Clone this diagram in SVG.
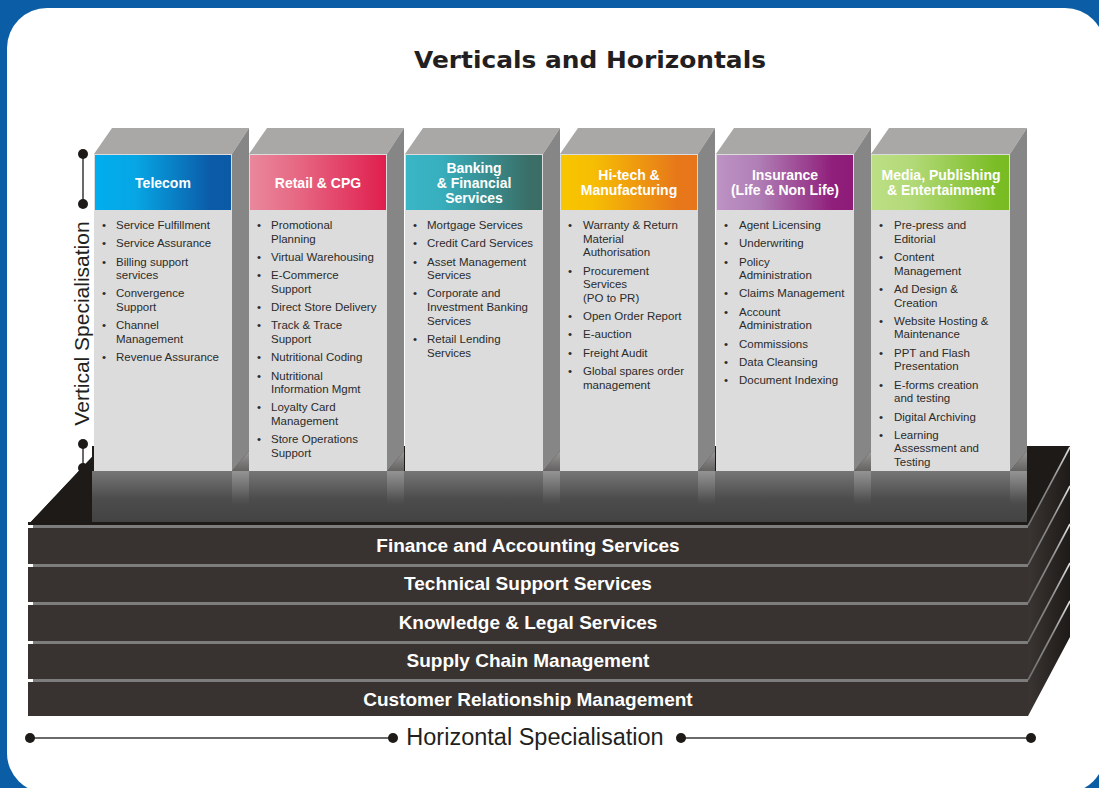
<svg xmlns="http://www.w3.org/2000/svg" width="1099" height="788" viewBox="0 0 1099 788">
  <style>
    .title { font-family: "DejaVu Sans", Verdana, sans-serif; font-weight: bold; font-size: 22px; fill: #231f20; }
    .axis-label { font-family: "Liberation Sans", Arial, sans-serif; font-size: 21px; fill: #231f20; }
    .head { font-family: "Liberation Sans", Arial, sans-serif; font-weight: bold; font-size: 14px; fill: #ffffff; text-anchor: middle; }
    .item { font-family: "Liberation Sans", Arial, sans-serif; font-size: 11.5px; fill: #2b2b2b; }
    .slab-label { font-family: "Liberation Sans", Arial, sans-serif; font-weight: bold; font-size: 19px; fill: #ffffff; text-anchor: middle; }
    .top { fill: #a9a8a6; }
    .side { fill: #868686; }
    .body { fill: #dcdcdc; }
    .slab { fill: #383330; }
    .slab-edge { fill: #7d7d7d; }
    .dot { fill: #1e1a18; }
    .axis { stroke: #6a6a6a; stroke-width: 2; fill: none; }
    .rim { stroke: url(#rimGrad); stroke-width: 1.6; fill: none; }
  </style>
  <defs>
    <linearGradient id="gTelecom" x1="0" y1="0" x2="1" y2="0">
      <stop offset="0" stop-color="#00aeef"/>
      <stop offset="0.3" stop-color="#07a6e4"/>
      <stop offset="0.85" stop-color="#0b5ba8"/>
      <stop offset="1" stop-color="#0b5aa6"/>
    </linearGradient>
    <linearGradient id="gRetail" x1="0" y1="0" x2="1" y2="0">
      <stop offset="0" stop-color="#e9889c"/>
      <stop offset="0.35" stop-color="#e66883"/>
      <stop offset="1" stop-color="#e01e4e"/>
    </linearGradient>
    <linearGradient id="gBanking" x1="0" y1="0" x2="1" y2="0">
      <stop offset="0" stop-color="#3ab6c6"/>
      <stop offset="0.25" stop-color="#37afbe"/>
      <stop offset="0.9" stop-color="#3a6f67"/>
      <stop offset="1" stop-color="#3a6d65"/>
    </linearGradient>
    <linearGradient id="gHitech" x1="0" y1="0" x2="1" y2="0">
      <stop offset="0" stop-color="#f8c600"/>
      <stop offset="0.25" stop-color="#f6bd04"/>
      <stop offset="0.85" stop-color="#e7781a"/>
      <stop offset="1" stop-color="#e7761a"/>
    </linearGradient>
    <linearGradient id="gInsurance" x1="0" y1="0" x2="1" y2="0">
      <stop offset="0" stop-color="#bd92c4"/>
      <stop offset="0.3" stop-color="#b07fb6"/>
      <stop offset="0.85" stop-color="#901f7b"/>
      <stop offset="1" stop-color="#8d1c78"/>
    </linearGradient>
    <linearGradient id="gMedia" x1="0" y1="0" x2="1" y2="0">
      <stop offset="0" stop-color="#bcdf85"/>
      <stop offset="0.3" stop-color="#b2d977"/>
      <stop offset="0.9" stop-color="#7bbd26"/>
      <stop offset="1" stop-color="#78bb22"/>
    </linearGradient>
    <linearGradient id="floorGrad" x1="0" y1="0" x2="0" y2="1">
      <stop offset="0" stop-color="#767676"/>
      <stop offset="0.55" stop-color="#4c4c4c"/>
      <stop offset="1" stop-color="#434343"/>
    </linearGradient>
    <linearGradient id="reflGrad" x1="0" y1="0" x2="0" y2="1">
      <stop offset="0" stop-color="#c4c4c4" stop-opacity="0.75"/>
      <stop offset="1" stop-color="#9a9a9a" stop-opacity="0"/>
    </linearGradient>
    <linearGradient id="sideFaceGrad" x1="0" y1="0" x2="1" y2="0">
      <stop offset="0" stop-color="#3a3533"/>
      <stop offset="1" stop-color="#1e1a18"/>
    </linearGradient>
    <linearGradient id="rimGrad" x1="0" y1="1" x2="1" y2="0">
      <stop offset="0" stop-color="#6f6f6f"/>
      <stop offset="0.6" stop-color="#8f8f8f"/>
      <stop offset="1" stop-color="#e6e6e6"/>
    </linearGradient>
  </defs>

  <!-- page frame -->
  <rect x="0" y="0" width="1099" height="788" fill="#0b5ea6"/>
  <rect x="7" y="8" width="1098" height="785" rx="40" ry="40" fill="#ffffff"/>

  <text class="title" x="590" y="68" text-anchor="middle" textLength="352" lengthAdjust="spacingAndGlyphs" style="font-size:23px">Verticals and Horizontals</text>

  <!-- platform: top surface, floor and layered slabs -->
  <g id="platform">
    <rect x="92" y="446" width="978" height="79" fill="#1e1a18"/>
    <polygon points="28,525 92,457 92,525" fill="#1e1a18"/>
    <rect x="92" y="471" width="935" height="51" fill="url(#floorGrad)"/>
    <rect x="28" y="522" width="1000" height="3" fill="#1e1a18"/>
    <polygon points="1028,525 1070,446 1070,637 1028,716" fill="url(#sideFaceGrad)"/>
  </g>

  <g id="slab-finance">
    <rect class="slab-edge" x="33" y="525" width="995" height="3"/>
    <rect class="slab" x="28" y="528" width="1000" height="36"/>
    <line class="rim" x1="1028" y1="526" x2="1070" y2="447"/>
    <text class="slab-label" x="528" y="552">Finance and Accounting Services</text>
  </g>
  <g id="slab-technical">
    <rect class="slab-edge" x="33" y="564" width="995" height="3"/>
    <rect class="slab" x="28" y="567" width="1000" height="35"/>
    <line class="rim" x1="1028" y1="565" x2="1070" y2="486"/>
    <text class="slab-label" x="528" y="590">Technical Support Services</text>
  </g>
  <g id="slab-knowledge">
    <rect class="slab-edge" x="33" y="602" width="995" height="3"/>
    <rect class="slab" x="28" y="605" width="1000" height="36"/>
    <line class="rim" x1="1028" y1="603" x2="1070" y2="524"/>
    <text class="slab-label" x="528" y="629">Knowledge &amp; Legal Services</text>
  </g>
  <g id="slab-supply">
    <rect class="slab-edge" x="33" y="641" width="995" height="3"/>
    <rect class="slab" x="28" y="644" width="1000" height="35"/>
    <line class="rim" x1="1028" y1="642" x2="1070" y2="563"/>
    <text class="slab-label" x="528" y="667">Supply Chain Management</text>
  </g>
  <g id="slab-crm">
    <rect class="slab-edge" x="33" y="679" width="995" height="3"/>
    <rect class="slab" x="28" y="682" width="1000" height="34"/>
    <line class="rim" x1="1028" y1="680" x2="1070" y2="601"/>
    <text class="slab-label" x="528" y="706">Customer Relationship Management</text>
  </g>

  <!-- vertical columns -->
  <g id="col-telecom">
    <polygon class="top" points="94,154 112,128 249,128 232,154"/>
    <polygon class="side" points="232,154 249,128 249,451 232,471"/>
    <polygon fill="url(#reflGrad)" points="232,471 249,451 249,505 232,505"/>
    <rect class="body" x="94" y="154" width="138" height="317"/>
    <rect x="95" y="155" width="136" height="55" fill="url(#gTelecom)"/>
    <text class="head" x="163" y="188">Telecom</text>
    <g class="item">
      <text x="102" y="229">•</text><text x="116" y="229">Service Fulfillment</text>
      <text x="102" y="247">•</text><text x="116" y="247">Service Assurance</text>
      <text x="102" y="266">•</text><text x="116" y="266">Billing support</text><text x="116" y="279">services</text>
      <text x="102" y="297">•</text><text x="116" y="297">Convergence</text><text x="116" y="311">Support</text>
      <text x="102" y="329">•</text><text x="116" y="329">Channel</text><text x="116" y="343">Management</text>
      <text x="102" y="361">•</text><text x="116" y="361">Revenue Assurance</text>
    </g>
  </g>

  <g id="col-retail">
    <polygon class="top" points="249,154 267,128 404,128 387,154"/>
    <polygon class="side" points="387,154 404,128 404,451 387,471"/>
    <polygon fill="url(#reflGrad)" points="387,471 404,451 404,505 387,505"/>
    <rect class="body" x="249" y="154" width="138" height="317"/>
    <rect x="250" y="155" width="136" height="55" fill="url(#gRetail)"/>
    <text class="head" x="318" y="188">Retail &amp; CPG</text>
    <g class="item">
      <text x="257" y="229">•</text><text x="271" y="229">Promotional</text><text x="271" y="243">Planning</text>
      <text x="257" y="261">•</text><text x="271" y="261">Virtual Warehousing</text>
      <text x="257" y="279">•</text><text x="271" y="279">E-Commerce</text><text x="271" y="293">Support</text>
      <text x="257" y="311">•</text><text x="271" y="311">Direct Store Delivery</text>
      <text x="257" y="329">•</text><text x="271" y="329">Track &amp; Trace</text><text x="271" y="343">Support</text>
      <text x="257" y="361">•</text><text x="271" y="361">Nutritional Coding</text>
      <text x="257" y="380">•</text><text x="271" y="380">Nutritional</text><text x="271" y="393">Information Mgmt</text>
      <text x="257" y="411">•</text><text x="271" y="411">Loyalty Card</text><text x="271" y="425">Management</text>
      <text x="257" y="443">•</text><text x="271" y="443">Store Operations</text><text x="271" y="457">Support</text>
    </g>
  </g>

  <g id="col-banking">
    <polygon class="top" points="405,154 423,128 560,128 543,154"/>
    <polygon class="side" points="543,154 560,128 560,451 543,471"/>
    <polygon fill="url(#reflGrad)" points="543,471 560,451 560,505 543,505"/>
    <rect class="body" x="405" y="154" width="138" height="317"/>
    <rect x="406" y="155" width="136" height="55" fill="url(#gBanking)"/>
    <text class="head" x="474" y="173">Banking</text>
    <text class="head" x="474" y="188">&amp; Financial</text>
    <text class="head" x="474" y="203">Services</text>
    <g class="item">
      <text x="413" y="229">•</text><text x="427" y="229">Mortgage Services</text>
      <text x="413" y="247">•</text><text x="427" y="247">Credit Card Services</text>
      <text x="413" y="266">•</text><text x="427" y="266">Asset Management</text><text x="427" y="279">Services</text>
      <text x="413" y="297">•</text><text x="427" y="297">Corporate and</text><text x="427" y="311">Investment Banking</text><text x="427" y="325">Services</text>
      <text x="413" y="343">•</text><text x="427" y="343">Retail Lending</text><text x="427" y="357">Services</text>
    </g>
  </g>

  <g id="col-hitech">
    <polygon class="top" points="560,154 578,128 715,128 698,154"/>
    <polygon class="side" points="698,154 715,128 715,451 698,471"/>
    <polygon fill="url(#reflGrad)" points="698,471 715,451 715,505 698,505"/>
    <rect class="body" x="560" y="154" width="138" height="317"/>
    <rect x="561" y="155" width="136" height="55" fill="url(#gHitech)"/>
    <text class="head" x="629" y="180">Hi-tech &amp;</text>
    <text class="head" x="629" y="195">Manufacturing</text>
    <g class="item">
      <text x="568" y="229">•</text><text x="583" y="229">Warranty &amp; Return</text><text x="583" y="243">Material</text><text x="583" y="256">Authorisation</text>
      <text x="568" y="275">•</text><text x="583" y="275">Procurement</text><text x="583" y="288">Services</text><text x="583" y="302">(PO to PR)</text>
      <text x="568" y="320">•</text><text x="583" y="320">Open Order Report</text>
      <text x="568" y="338">•</text><text x="583" y="338">E-auction</text>
      <text x="568" y="357">•</text><text x="583" y="357">Freight Audit</text>
      <text x="568" y="375">•</text><text x="583" y="375">Global spares order</text><text x="583" y="389">management</text>
    </g>
  </g>

  <g id="col-insurance">
    <polygon class="top" points="716,154 734,128 871,128 854,154"/>
    <polygon class="side" points="854,154 871,128 871,451 854,471"/>
    <polygon fill="url(#reflGrad)" points="854,471 871,451 871,505 854,505"/>
    <rect class="body" x="716" y="154" width="138" height="317"/>
    <rect x="717" y="155" width="136" height="55" fill="url(#gInsurance)"/>
    <text class="head" x="785" y="180">Insurance</text>
    <text class="head" x="785" y="195">(Life &amp; Non Life)</text>
    <g class="item">
      <text x="724" y="229">•</text><text x="739" y="229">Agent Licensing</text>
      <text x="724" y="247">•</text><text x="739" y="247">Underwriting</text>
      <text x="724" y="266">•</text><text x="739" y="266">Policy</text><text x="739" y="279">Administration</text>
      <text x="724" y="297">•</text><text x="739" y="297">Claims Management</text>
      <text x="724" y="316">•</text><text x="739" y="316">Account</text><text x="739" y="329">Administration</text>
      <text x="724" y="348">•</text><text x="739" y="348">Commissions</text>
      <text x="724" y="366">•</text><text x="739" y="366">Data Cleansing</text>
      <text x="724" y="384">•</text><text x="739" y="384">Document Indexing</text>
    </g>
  </g>

  <g id="col-media">
    <polygon class="top" points="871,154 889,128 1027,128 1010,154"/>
    <polygon class="side" points="1010,154 1027,128 1027,451 1010,471"/>
    <polygon fill="url(#reflGrad)" points="1010,471 1027,451 1027,505 1010,505"/>
    <rect class="body" x="871" y="154" width="139" height="317"/>
    <rect x="872" y="155" width="137" height="55" fill="url(#gMedia)"/>
    <text class="head" x="941" y="180">Media, Publishing</text>
    <text class="head" x="941" y="195">&amp; Entertainment</text>
    <g class="item">
      <text x="879" y="229">•</text><text x="894" y="229">Pre-press and</text><text x="894" y="243">Editorial</text>
      <text x="879" y="261">•</text><text x="894" y="261">Content</text><text x="894" y="275">Management</text>
      <text x="879" y="293">•</text><text x="894" y="293">Ad Design &amp;</text><text x="894" y="307">Creation</text>
      <text x="879" y="325">•</text><text x="894" y="325">Website Hosting &amp;</text><text x="894" y="338">Maintenance</text>
      <text x="879" y="357">•</text><text x="894" y="357">PPT and Flash</text><text x="894" y="370">Presentation</text>
      <text x="879" y="389">•</text><text x="894" y="389">E-forms creation</text><text x="894" y="402">and testing</text>
      <text x="879" y="421">•</text><text x="894" y="421">Digital Archiving</text>
      <text x="879" y="439">•</text><text x="894" y="439">Learning</text><text x="894" y="452">Assessment and</text><text x="894" y="466">Testing</text>
    </g>
  </g>

  <!-- specialisation axes -->
  <g id="connectors">
    <line class="axis" x1="83" y1="154" x2="83" y2="204"/>
    <circle class="dot" cx="83" cy="154" r="5"/>
    <circle class="dot" cx="83" cy="204" r="5"/>
    <line class="axis" x1="83" y1="444" x2="83" y2="468"/>
    <circle class="dot" cx="83" cy="444" r="5"/>
    <circle class="dot" cx="83" cy="468" r="5"/>
    <line class="axis" x1="30" y1="738" x2="393" y2="738"/>
    <line class="axis" x1="681" y1="738" x2="1031" y2="738"/>
    <circle class="dot" cx="30" cy="738" r="5"/>
    <circle class="dot" cx="393" cy="738" r="5"/>
    <circle class="dot" cx="681" cy="738" r="5"/>
    <circle class="dot" cx="1031" cy="738" r="5"/>
  </g>
  <!-- left wedge of the platform sits over the lower vertical axis end -->
  <polygon points="28,525 92,457 92,472 40,525" fill="#1e1a18"/>
  <g id="axis-labels">
    <text class="axis-label" transform="translate(89,323.5) rotate(-90)" text-anchor="middle">Vertical Specialisation</text>
    <text class="axis-label" x="535" y="745" text-anchor="middle" style="font-size:23.5px">Horizontal Specialisation</text>
  </g>
</svg>
